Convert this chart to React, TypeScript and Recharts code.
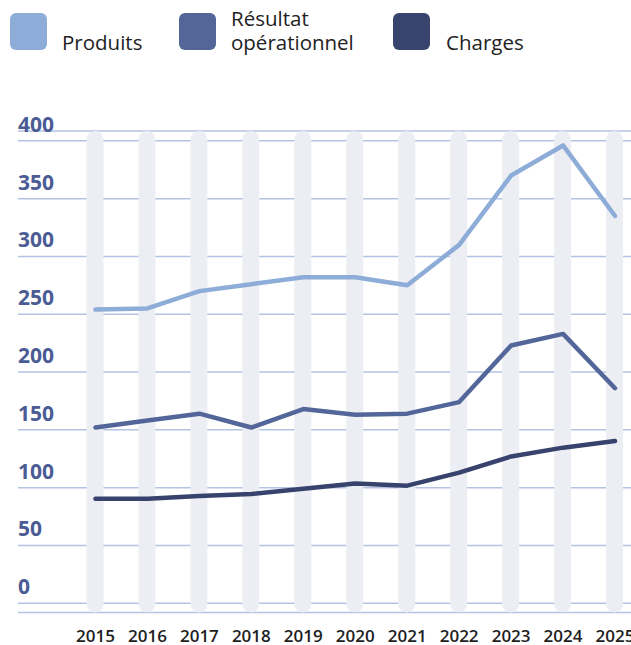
import { ComposedChart, Bar, Line, XAxis, YAxis, CartesianGrid } from "recharts";

const years = ["2015", "2016", "2017", "2018", "2019", "2020", "2021", "2022", "2023", "2024", "2025"];
const produits = [254, 255, 270, 276, 282, 282, 275, 310, 370, 396, 335];
const resultat = [152, 158, 164, 152, 168, 163, 164, 174, 223, 233, 186];
const charges = [90.5, 90.5, 92.8, 94.5, 99, 103.5, 101.7, 113, 127, 134.6, 140.4];
const yTicks = [0, 50, 100, 150, 200, 250, 300, 350, 400];

const legendItems = [
  { label: ["Produits"], color: "#8eacd8", box: 10, text: 62 },
  { label: ["Résultat", "opérationnel"], color: "#546698", box: 179, text: 231 },
  { label: ["Charges"], color: "#38446e", box: 393, text: 446 },
];

const data = years.map((year, i) => ({
  year,
  produits: produits[i],
  resultat: resultat[i],
  charges: charges[i],
}));

const FONT = "'Open Sans', 'Noto Sans', sans-serif";

function YTick({ y, payload }: any) {
  return (
    <text x={18} y={y - 9} textAnchor="start" fill="#4b5c95" fontSize={21} fontWeight={700} fontFamily={FONT}>
      {payload.value}
    </text>
  );
}

function XTick({ x, y, payload }: any) {
  return (
    <text x={x} y={y + 29.5} textAnchor="middle" fill="#1e1e1e" fontSize={17} fontWeight={600} fontFamily={FONT}>
      {payload.value}
    </text>
  );
}

// grey rounded stripe behind each year
function Stripe({ x, width, background }: any) {
  if (!background) return null;
  return <rect x={x} y={background.y} width={width} height={background.height} rx={8.5} ry={8.5} fill="#eceef3" />;
}

export default function App() {
  return (
    <div style={{ position: "absolute", left: 0, top: 0, width: 631, height: 645, overflow: "hidden", background: "#fff" }}>
      {legendItems.map((item) => (
        <div key={item.label.join(" ")}>
          <div
            style={{
              position: "absolute",
              left: item.box,
              top: 13,
              width: 37,
              height: 37,
              borderRadius: 6,
              background: item.color,
            }}
          />
          <div
            style={{
              position: "absolute",
              left: item.text,
              top: item.label.length > 1 ? 7 : 31,
              fontFamily: FONT,
              fontSize: 20.5,
              lineHeight: "23.5px",
              color: "#222",
            }}
          >
            {item.label.map((l) => (
              <div key={l}>{l}</div>
            ))}
          </div>
        </div>
      ))}
      <ComposedChart
        width={645}
        height={645}
        data={data}
        margin={{ top: 131, right: 0, bottom: 0, left: 0 }}
        style={{ position: "absolute", left: 0, top: 0 }}
      >
        <XAxis
          dataKey="year"
          axisLine={false}
          tickLine={false}
          tickSize={0}
          tickMargin={0}
          height={32.5}
          padding={{ left: 51.5, right: 4 }}
          interval={0}
          tick={<XTick />}
        />
        <YAxis
          type="number"
          domain={[-8, 408.5]}
          ticks={yTicks}
          interval={0}
          width={18}
          axisLine={false}
          tickLine={false}
          tickSize={0}
          tickMargin={0}
          tick={<YTick />}
        />
        <Bar
          dataKey="produits"
          barSize={17}
          fill="transparent"
          background={{ fill: "#eceef3", radius: 8.5 }}
          shape={<g />}
          isAnimationActive={false}
        />
        <CartesianGrid vertical={false} stroke="#b3c3e3" strokeWidth={1.5} />
        <Line type="linear" dataKey="produits" stroke="#8eacd8" strokeWidth={4.5} strokeLinecap="round" strokeLinejoin="round" dot={false} activeDot={false} isAnimationActive={false} />
        <Line type="linear" dataKey="resultat" stroke="#536699" strokeWidth={4.5} strokeLinecap="round" strokeLinejoin="round" dot={false} activeDot={false} isAnimationActive={false} />
        <Line type="linear" dataKey="charges" stroke="#37436d" strokeWidth={4.5} strokeLinecap="round" strokeLinejoin="round" dot={false} activeDot={false} isAnimationActive={false} />
      </ComposedChart>
    </div>
  );
}
